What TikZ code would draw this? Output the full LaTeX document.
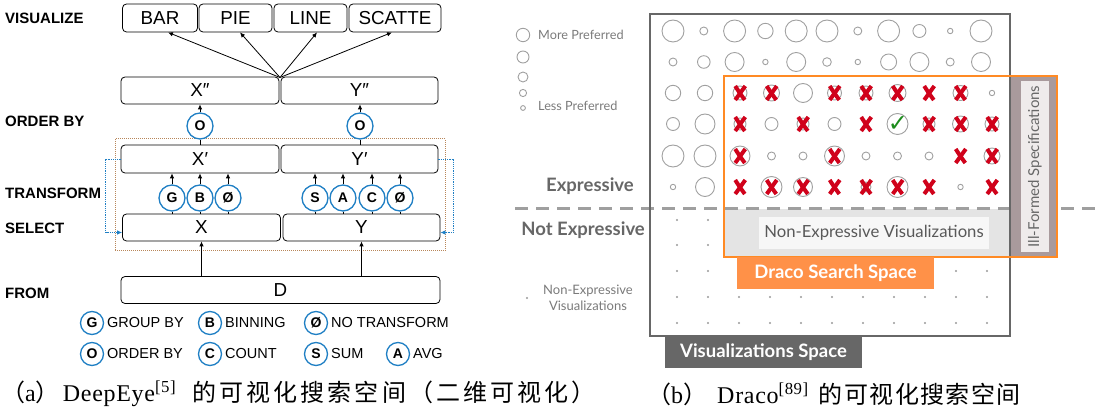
\documentclass[tikz,border=0pt]{standalone}
\usepackage{fontspec}
\usetikzlibrary{arrows.meta,calc}
\newfontfamily\hv{Liberation Sans}
\newfontfamily\lato{Lato}
\newfontfamily\cjka[LetterSpace=13]{Noto Sans CJK SC}
\newfontfamily\cjkb[LetterSpace=6]{Noto Sans CJK SC}
\newfontfamily\tmsa[LetterSpace=3]{Liberation Serif}
\newfontfamily\tmsb[LetterSpace=3]{Liberation Serif}
\newfontfamily\dvs{DejaVu Sans}
\definecolor{oblue}{HTML}{1F7FC4}
\definecolor{brn}{HTML}{B8865A}
\definecolor{cgray}{HTML}{A0A0A0}
\definecolor{vgray}{HTML}{676767}
\definecolor{orng}{HTML}{FF8A24}
\definecolor{orfill}{HTML}{FF9148}
\definecolor{xred}{HTML}{D0021B}
\definecolor{strip}{HTML}{A99A9C}
\definecolor{stripin}{HTML}{EFEBEB}
\definecolor{ckgreen}{HTML}{1C8C1C}
\definecolor{negray}{HTML}{E4E4E4}
\definecolor{lgt}{HTML}{7A7A7A}
\begin{document}
\begin{tikzpicture}[x=1pt,y=-1pt,
  lbl/.style={font=\hv\bfseries\fontsize{15}{17}\selectfont, anchor=west, inner sep=0},
  vbox/.style={draw, rounded corners=4pt, line width=0.8pt, minimum height=28pt, inner sep=0, font=\hv\fontsize{18.8}{21}\selectfont},
  opc/.style={circle, draw=oblue, line width=1.3pt, fill=white, minimum size=26pt, inner sep=0, font=\hv\bfseries\fontsize{14}{16}\selectfont},
  lgc/.style={circle, draw=oblue, line width=1.3pt, fill=white, minimum size=23pt, inner sep=0, font=\hv\bfseries\fontsize{14}{16}\selectfont},
  lgtx/.style={anchor=west, inner sep=0, font=\hv\fontsize{14.5}{16}\selectfont},
  arr/.style={-{Latex[length=5pt,width=4.5pt]}, line width=0.8pt},
  bdot/.style={oblue, line width=1.2pt, densely dotted},
  cgc/.style={cgray, line width=0.9pt},
  xmk/.pic={\draw[xred, line width=4pt] (-4.8,-7) .. controls (-1,-1) .. (4.8,7);
            \draw[xred, line width=4pt] (5.3,-7) .. controls (1,0) .. (-4.8,7);},
  rtx/.style={font=\lato\fontsize{12.7}{15}\selectfont, text=lgt, inner sep=0}
]
\useasboundingbox (0,0) rectangle (1101,411);

% ================= LEFT PANEL =================
\node[lbl] (lv) at (5,18) {VISUALIZE};
\node[lbl] (lo) at (5,121) {ORDER BY};
\node[lbl] (lt) at (5,193) {TRANSFORM};
\node[lbl] (ls) at (5,228) {SELECT};
\node[lbl] (lf) at (5,293) {FROM};

\node[vbox, minimum width=75pt] (bar) at (160,18) {BAR};
\node[vbox, minimum width=73pt] (pie) at (235.5,18) {PIE};
\node[vbox, minimum width=73pt] (ln) at (310.5,18) {LINE};
\node[vbox, minimum width=92pt] (sca) at (395,18) {SCATTE};

\node[vbox, minimum width=158pt, minimum height=27pt] (xpp) at (200,90.5) {X″};
\node[vbox, minimum width=157pt, minimum height=27pt] (ypp) at (359.5,90.5) {Y″};
\coordinate (hub) at (280,77.5);
\draw[arr] (hub) -- ($(bar.south)+(8,0)$);
\draw[arr] (hub) -- ($(pie.south)+(4.5,0)$);
\draw[arr] (hub) -- ($(ln.south)+(6.5,0)$);
\draw[arr] (hub) -- ($(sca.south)+(-3,0)$);

\draw[brn, line width=1pt, densely dotted] (115,139) rectangle (445,251);

\node[vbox, minimum width=158pt] (xp) at (200,159) {X′};
\node[vbox, minimum width=157pt] (yp) at (359.5,159) {Y′};

\node[opc] (o1) at (200,126) {O};
\node[opc] (o2) at (360,126) {O};
\foreach \n/\t/\b in {o1/xpp/xp, o2/ypp/yp}{
  \draw[arr] (\n.north) -- (\n.north |- \t.south);
  \draw[line width=0.8pt] (\n.south) -- (\n.south |- \b.north);
}

\node[vbox, minimum width=158pt, minimum height=27pt] (nx) at (201.5,227.5) {X};
\node[vbox, minimum width=157pt, minimum height=27pt] (ny) at (361.5,227.5) {Y};

\node[opc] (g) at (172,198) {G};
\node[opc] (b) at (200,198) {B};
\node[opc] (n1) at (228,198) {Ø};
\node[opc] (s) at (315,198) {S};
\node[opc] (a) at (343,198) {A};
\node[opc] (c) at (372,198) {C};
\node[opc] (n2) at (400,198) {Ø};
\foreach \n in {g,b,n1}{
  \draw[line width=0.8pt] (\n.south) -- (\n.south |- nx.north);
  \draw[arr] (\n.north) -- (\n.north |- xp.south);
}
\foreach \n in {s,a,c,n2}{
  \draw[line width=0.8pt] (\n.south) -- (\n.south |- ny.north);
  \draw[arr] (\n.north) -- (\n.north |- yp.south);
}

\draw[bdot, arr] (xp.west) -- ++(-15,0) |- ([yshift=-5pt]nx.west);
\draw[bdot, arr] (yp.east) -- ++(15,0) |- ([yshift=-5pt]ny.east);

\node[vbox, minimum width=319pt, minimum height=27pt] (d) at (280.5,290) {D};
\draw[arr] (d.north -| nx) -- (nx.south);
\draw[arr] (d.north -| ny) -- (ny.south);

% legend
\node[lgc] (lg) at (92,323) {G};   \node[lgtx] (lgt1) at (107,323) {GROUP BY};
\node[lgc] (lb) at (210,323) {B};  \node[lgtx] (lgt2) at (225,323) {BINNING};
\node[lgc] (ln0) at (316,323) {Ø}; \node[lgtx] (lgt3) at (331,323) {NO TRANSFORM};
\node[lgc] (lo2) at (92,354) {O};  \node[lgtx] (lgt4) at (107,354) {ORDER BY};
\node[lgc] (lc) at (210,354) {C};  \node[lgtx] (lgt5) at (225,354) {COUNT};
\node[lgc] (lsm) at (316,354) {S}; \node[lgtx] (lgt6) at (331,354) {SUM};
\node[lgc] (la) at (398,354) {A};  \node[lgtx] (lgt7) at (413,354) {AVG};

% ================= RIGHT PANEL =================
% grid rows 0,1
\foreach \r [count=\i from 0] in {11,4,11,7.7,11,11,4,11,6.5,2.7,11}
  \draw[cgc] (673+30.8*\i,31) circle[radius=\r];
\foreach \r [count=\i from 0] in {4,6.3,9.5,2.7,9.5,4.3,2.7,8,9.5,4,9.5}
  \draw[cgc] (673+30.8*\i,62) circle[radius=\r];
% rows 2-5
\foreach \ry/\row in {93/{0/7.7/o,1/7.7/o,2/7/x,3/8/x,4/9.5/o,5/7/x,6/7/x,7/8.5/x,8/0/x,9/7.5/x,10/2.7/o},
                      124/{0/6.5/o,1/10/o,2/6/x,3/6.5/o,4/6/x,5/6.5/o,6/0/x,7/10.5/k,8/6/x,9/8/x,10/7/x},
                      156/{0/11/o,1/11/o,2/10/x,3/4/o,4/4/o,5/10/x,6/4/o,7/4/o,8/4/o,9/0/x,10/8/x},
                      187/{0/2.7/o,1/9.5/o,2/0/x,3/10.5/x,4/9.5/x,5/0/x,6/5/x,7/10.5/x,8/0/x,9/2.7/o,10/0/x}}{
  \foreach \c/\r/\tp in \row {
    \pgfmathsetmacro\cx{\c<2 ? 673+32*\c : 740+31.5*(\c-2)}
    \ifdim\r pt>0pt \draw[cgc] (\cx,\ry) circle[radius=\r]; \fi
    \if\tp x \pic at (\cx,\ry) {xmk}; \fi
    \if\tp k \node[text=ckgreen, inner sep=0, font=\dvs\fontsize{24}{24}\selectfont] at (\cx+0.5,\ry) {✓}; \fi
  }
}
% dots
\foreach \dy in {220,245,271,297,323}
  \foreach \i in {0,...,10}
    \fill[gray!80] (677+31*\i,\dy) circle[radius=1.1];

% non-expressive region
\fill[negray] (724,209) rectangle (1010,257);
\node[fill=white!97!black, minimum width=230pt, minimum height=32pt, inner sep=0,
      font=\lato\fontsize{16.7}{19}\selectfont, text=black!65] (nev) at (874,233) {Non-Expressive Visualizations};

% dashed line
\draw[gray!75, line width=2.5pt, dash pattern=on 13pt off 8pt] (515,208.5) -- (1101,208.5);

% ill-formed strip
\fill[strip] (1010,76) rectangle (1056,257);
\node[fill=stripin, minimum width=171pt, minimum height=28pt, inner sep=0, rotate=90,
      font=\lato\fontsize{15}{17}\selectfont, text=vgray] (ill) at (1035,166.5) {Ill-Formed Specifications};

% main box and orange box
\draw[vgray, line width=2.5pt] (650,14) rectangle (1010,336);
\draw[orng, line width=2pt] (724,76) rectangle (1057,257);

\node[fill=orfill, text=white, minimum width=197pt, minimum height=32pt, inner sep=0,
      font=\lato\bfseries\fontsize{18.5}{20}\selectfont] (dss) at (835.5,273) {Draco Search Space};
\node[fill=vgray, text=white, minimum width=197pt, minimum height=31pt, inner sep=0,
      font=\lato\bfseries\fontsize{18.5}{20}\selectfont] (vss) at (763.5,352.5) {Visualizations Space};

% right legend
\draw[cgc] (523,35) circle[radius=6.7];
\draw[cgc] (523,57) circle[radius=6];
\draw[cgc] (523,77) circle[radius=5];
\draw[cgc] (523,93) circle[radius=3.6];
\draw[cgc] (523,108) circle[radius=2.4];
\node[rtx, anchor=west] (mp) at (538,35) {More Preferred};
\node[rtx, anchor=west] (lp) at (538,106) {Less Preferred};
\node[anchor=east, inner sep=0, font=\lato\bfseries\fontsize{18.5}{20}\selectfont, text=vgray] (ex) at (634,186) {Expressive};
\node[anchor=east, inner sep=0, font=\lato\bfseries\fontsize{18.5}{20}\selectfont, text=vgray] (nex) at (645,230) {Not Expressive};
\fill[gray!80] (527,298) circle[radius=1.1];
\node[rtx, align=center, font=\lato\fontsize{13}{16}\selectfont] (nev2) at (588,298) {Non-Expressive\\Visualizations};

% captions
\node[anchor=west, inner sep=0, font=\tmsa\fontsize{24}{26}\selectfont] (capa) at (1,394)
  {{\cjka （}a{\cjka ）}\hspace{3pt}DeepEye\textsuperscript{[5]}\hspace{16pt}{\cjka 的可视化搜索空间（二维可视化）}};
\node[anchor=west, inner sep=0, font=\tmsb\fontsize{24}{26}\selectfont] (capb) at (647,394)
  {{\cjkb （}b{\cjkb ）}\hspace{10pt}Draco\textsuperscript{[89]}\hspace{10pt}{\cjkb 的可视化搜索空间}};
\end{tikzpicture}
\end{document}
